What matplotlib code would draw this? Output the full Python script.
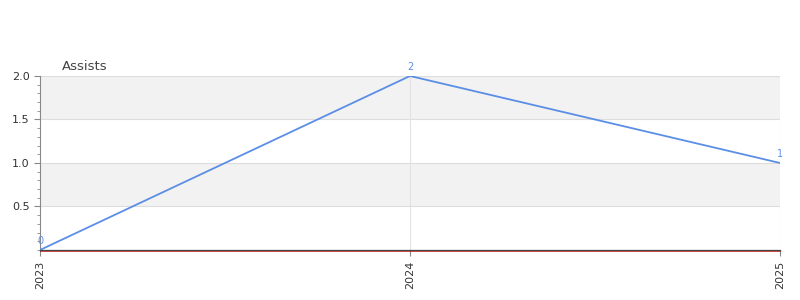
import matplotlib
matplotlib.use('Agg')
import matplotlib.pyplot as plt
from matplotlib.ticker import MultipleLocator, FixedLocator
import matplotlib.transforms as mtransforms

years = ['2023', '2024', '2025']
assists = [0, 2, 1]

line_color = '#5b8ee6'

fig = plt.figure(figsize=(8, 3), dpi=100)
ax = fig.add_axes([0.05, 0.1667, 0.925, 0.58])

x = list(range(len(years)))
ax.plot(x, assists, color=line_color, linewidth=1.3, zorder=3)
for xi, v in zip(x, assists):
    ax.annotate(str(v), (xi, v), textcoords='offset points', xytext=(0, 3),
                ha='center', va='bottom', fontsize=7, color=line_color)

ax.set_xlim(0, 2)
ax.set_ylim(0, 2)

# alternating bands
for lo, hi in [(0.5, 1.0), (1.5, 2.0)]:
    ax.axhspan(lo, hi, color='#f2f2f2', zorder=0, lw=0)
for yv in [0.5, 1.0, 1.5, 2.0]:
    ax.axhline(yv, color='#dddddd', linewidth=0.8, zorder=1)
for xv in [1, 2]:
    ax.axvline(xv, color='#e2e2e2', linewidth=0.8, zorder=1)

# thin red baseline just under the axis
off = mtransforms.offset_copy(ax.transData, fig=fig, x=0, y=-1.0, units='dots')
ax.plot([0, 2], [0, 0], color='#cc0000', linewidth=0.5, transform=off, zorder=4, clip_on=False)

ax.set_xticks(x)
ax.set_xticklabels(years, rotation=90, fontsize=8, color='#333333')
ax.yaxis.set_major_locator(FixedLocator([0.5, 1.0, 1.5, 2.0]))
ax.yaxis.set_minor_locator(MultipleLocator(0.1))
ax.tick_params(axis='y', labelsize=8, labelcolor='#333333', color='#888888', length=4)
ax.tick_params(axis='y', which='minor', color='#888888', length=2)
ax.tick_params(axis='x', length=4, color='#888888')

for s in ['top', 'right']:
    ax.spines[s].set_visible(False)
ax.spines['left'].set_color('#888888')
ax.spines['bottom'].set_color('#444444')
ax.spines['bottom'].set_linewidth(0.9)
ax.spines['bottom'].set_zorder(5)

fig.text(0.0775, 0.758, 'Assists', fontsize=9.5, color='#444444', ha='left', va='bottom')

fig.savefig('out.png')
